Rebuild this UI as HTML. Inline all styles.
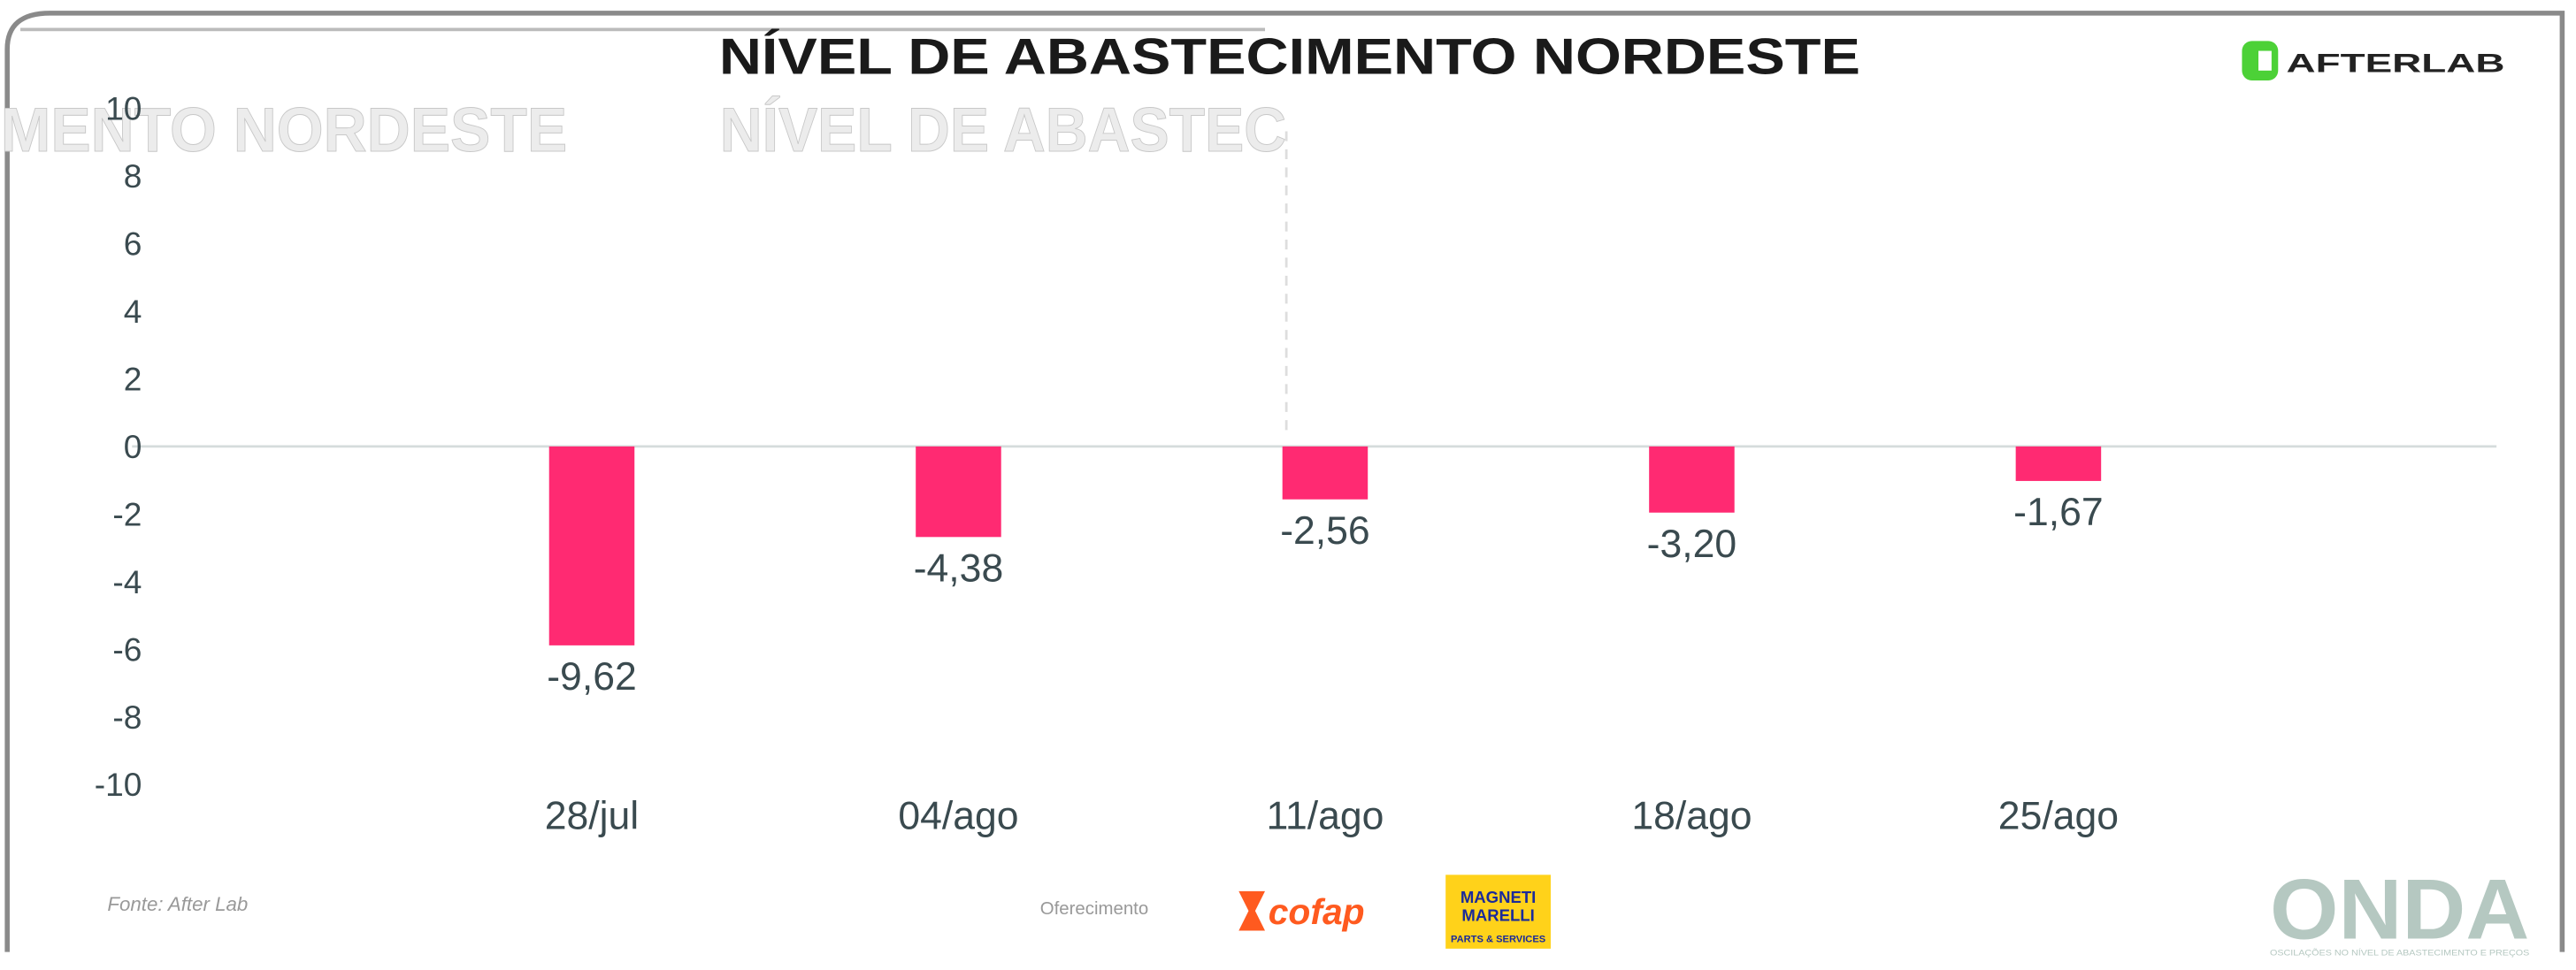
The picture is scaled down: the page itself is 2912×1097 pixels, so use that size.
<!DOCTYPE html>
<html><head><meta charset="utf-8"><style>
html,body{margin:0;padding:0;background:#fff;}
svg{display:block;}
text{font-family:"Liberation Sans",sans-serif;}
</style></head><body>
<svg id="chart" width="2912" height="1097" viewBox="0 0 1568 591" xmlns="http://www.w3.org/2000/svg">
<rect x="0" y="0" width="1568" height="591" fill="#fff"/>
<path d="M4,580 L4,30 Q4,8 30,8 L1560,8 L1560,580" fill="none" stroke="#8a8a8a" stroke-width="3"/>
<line x1="12" y1="18" x2="770" y2="18" stroke="#bbb" stroke-width="2"/>
<line x1="783" y1="80" x2="783" y2="265" stroke="#ddd" stroke-width="1.5" stroke-dasharray="6,5"/>
<text x="0" y="92" font-size="38" fill="#ececec" stroke="#c8c8c8" stroke-width="0.5" font-weight="bold" textLength="345" lengthAdjust="spacingAndGlyphs">MENTO NORDESTE</text>
<text x="438" y="92" font-size="38" fill="#ececec" stroke="#c8c8c8" stroke-width="0.5" font-weight="bold" textLength="345" lengthAdjust="spacingAndGlyphs">NÍVEL DE ABASTEC</text>
<text x="785" y="45" text-anchor="middle" font-size="31" font-weight="bold" fill="#1a1a1a" textLength="695" lengthAdjust="spacingAndGlyphs">NÍVEL DE ABASTECIMENTO NORDESTE</text>
<g>
<rect x="1365" y="25" width="22" height="24" rx="6" fill="#4cd137"/>
<rect x="1375" y="31" width="8" height="12" fill="#fff"/>
<text x="1392" y="44" font-size="16" font-weight="bold" fill="#222" textLength="133" lengthAdjust="spacingAndGlyphs">AFTERLAB</text>
</g>
<g id="axes"></g>
<g id="bars"></g>
<text x="65" y="555" font-size="12" fill="#999" font-style="italic">Fonte: After Lab</text>
<text x="633" y="557" font-size="11" fill="#999">Oferecimento</text>
<g>
<path d="M754,543 L770,543 L764,555 L770,567 L754,567 L760,555 Z" fill="#ff5a1f"/>
<text x="772" y="563" font-size="22" font-weight="bold" font-style="italic" fill="#ff5a1f">cofap</text>
</g>
<g>
<rect x="880" y="533" width="64" height="45" fill="#ffd21a"/>
<text x="912" y="550" font-size="10" font-weight="bold" fill="#1a2a9a" text-anchor="middle">MAGNETI</text>
<text x="912" y="561" font-size="10" font-weight="bold" fill="#1a2a9a" text-anchor="middle">MARELLI</text>
<text x="912" y="574" font-size="6" font-weight="bold" fill="#1a2a9a" text-anchor="middle">PARTS &amp; SERVICES</text>
</g>
<text x="1382" y="572" font-size="52" font-weight="bold" fill="#b5c8c1" textLength="158" lengthAdjust="spacingAndGlyphs">ONDA</text>
<text x="1382" y="582" font-size="5" fill="#b5c8c1" textLength="158" lengthAdjust="spacingAndGlyphs">OSCILAÇÕES NO NÍVEL DE ABASTECIMENTO E PREÇOS</text>
</svg>
<script>
const categories = ["28/jul","04/ago","11/ago","18/ago","25/ago"];
const values = [-9.62,-4.38,-2.56,-3.20,-1.67];
const valueLabels = ["-9,62","-4,38","-2,56","-3,20","-1,67"];
const yTicks = [10,8,6,4,2,0,-2,-4,-6,-8,-10];

const NS="http://www.w3.org/2000/svg";
const zeroY=272, tickUnit=20.6, barUnit=12.6, x0=360, step=223.3, barW=52;
function yTick(v){return zeroY - v*tickUnit;}
function yBar(v){return zeroY - v*barUnit;}
function xScale(i){return x0 + i*step;}
function mk(tag,attrs,parent){const e=document.createElementNS(NS,tag);for(const k in attrs)e.setAttribute(k,attrs[k]);parent.appendChild(e);return e;}
const axes=document.getElementById('axes'), bars=document.getElementById('bars');

const zl=mk('line',{x1:80,x2:1520,y1:zeroY,y2:zeroY,stroke:'#d5dcdc','stroke-width':1.5},axes);



yTicks.forEach(t=>{
  const tx=mk('text',{x:86,y:yTick(t)+7,'text-anchor':'end','font-size':20,fill:'#3a4a4f'},axes);
  tx.textContent=String(t);
  
  
});

categories.forEach((c,i)=>{
  const lab=mk('text',{x:xScale(i),y:505,'text-anchor':'middle','font-size':24,fill:'#3a4a4f'},axes);
  lab.textContent=c;
  
  
  const v=values[i];
  const y1=yBar(Math.max(0,v)), y2=yBar(Math.min(0,v));
  const r=mk('rect',{x:xScale(i)-barW/2,y:y1,width:barW,height:y2-y1,fill:'#ff2a72'},bars);
  
  
  const vl=mk('text',{x:xScale(i),y:y2+27,'text-anchor':'middle','font-size':24,fill:'#3a4a4f'},bars);
  vl.textContent=valueLabels[i];
  
  
});
</script>
</body></html>
